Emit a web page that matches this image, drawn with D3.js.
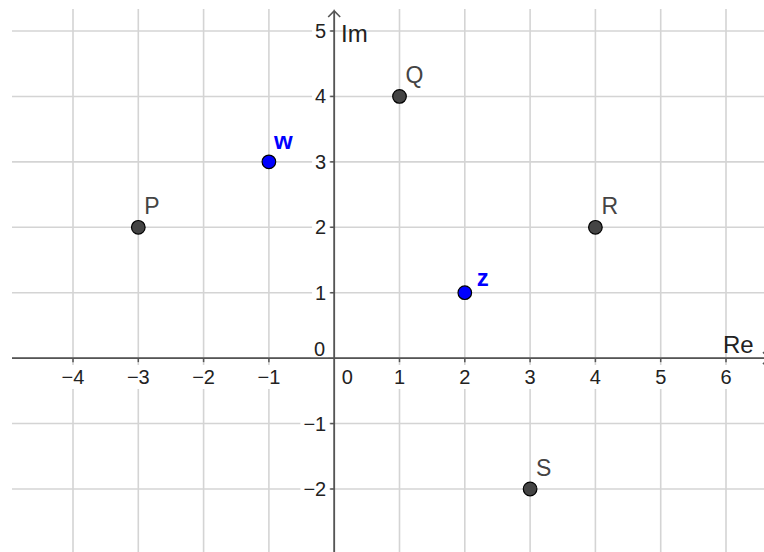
<!DOCTYPE html>
<html>
<head>
<meta charset="utf-8">
<script src="https://cdn.jsdelivr.net/npm/d3@7"></script>
<style>
  html, body { margin: 0; padding: 0; background: #fff; }
  svg { display: block; }
  text { font-family: "Liberation Sans", Arial, sans-serif; }
</style>
</head>
<body>
<svg id="chart" width="764" height="552"></svg>
<script>
// ---- data ----
const xTicks = [-4, -3, -2, -1, 0, 1, 2, 3, 4, 5, 6];
const yTicks = [-2, -1, 0, 1, 2, 3, 4, 5];
const xAxisTitle = "Re";
const yAxisTitle = "Im";
const pointNames = ["P", "Q", "R", "S", "w", "z"];
const pointRe    = [-3, 1, 4, 3, -1, 2];
const pointIm    = [2, 4, 2, -2, 3, 1];
const pointKind  = ["fixed", "fixed", "fixed", "fixed", "free", "free"];

// ---- layout ----
const W = 764, H = 552;
const plot = { left: 12, top: 9, right: 764, bottom: 552 };
const x = d3.scaleLinear().domain([-4, 6]).range([73, 726]);
const y = d3.scaleLinear().domain([-2, 5]).range([489, 31]);

const svg = d3.select("#chart");
svg.append("rect").attr("width", W).attr("height", H).attr("fill", "#fff");

const gridColor = "#d4d4d4";
const axisColor = "#555";
const g = svg.append("g");

// grid
g.selectAll("line.vg").data(xTicks).join("line")
  .attr("x1", d => x(d)).attr("x2", d => x(d))
  .attr("y1", plot.top).attr("y2", plot.bottom)
  .attr("stroke", gridColor).attr("stroke-width", 1.6);
g.selectAll("line.hg").data(yTicks).join("line")
  .attr("y1", d => y(d)).attr("y2", d => y(d))
  .attr("x1", plot.left).attr("x2", plot.right)
  .attr("stroke", gridColor).attr("stroke-width", 1.6);

const x0 = x(0), y0 = y(0);

// tick labels with white backgrounds
const labG = svg.append("g");
function addLabel(txt, tx, ty, anchor) {
  const grp = labG.append("g");
  const bg = grp.append("rect").attr("fill", "#fff");
  const t = grp.append("text").attr("x", tx).attr("y", ty)
    .attr("text-anchor", anchor).attr("font-size", 20).attr("fill", "#222")
    .text(txt);
  const b = t.node().getBBox();
  bg.attr("x", b.x - 3).attr("y", b.y - 1).attr("width", b.width + 6).attr("height", b.height + 2);
}
const fmt = d => d < 0 ? "\u2212" + Math.abs(d) : String(d);
xTicks.forEach(d => {
  if (d === 0) addLabel("0", x0 + 13, 384, "middle");
  else addLabel(fmt(d), x(d), 384, "middle");
});
yTicks.forEach(d => {
  if (d === 0) addLabel("0", x0 - 9, y0 - 2.5, "end");
  else addLabel(fmt(d), x0 - 8, y(d) + 7, "end");
});

// axes
const ax = svg.append("g").attr("stroke", axisColor).attr("fill", "none");
ax.append("line").attr("x1", plot.left).attr("x2", plot.right)
  .attr("y1", y0).attr("y2", y0).attr("stroke-width", 1.8);
ax.append("line").attr("x1", x0).attr("x2", x0)
  .attr("y1", 11).attr("y2", plot.bottom).attr("stroke-width", 1.8);
// arrows
ax.append("path").attr("d", `M${x0 - 6},${17} L${x0},${11} L${x0 + 6},${17}`).attr("stroke-width", 1.6);
ax.append("path").attr("d", `M${769 - 6},${y0 - 6} L${769},${y0} L${769 - 6},${y0 + 6}`).attr("stroke-width", 1.6);
// ticks
ax.selectAll("line.xt").data(xTicks.filter(d => d !== 0)).join("line")
  .attr("x1", d => x(d)).attr("x2", d => x(d)).attr("y1", y0).attr("y2", y0 + 4)
  .attr("stroke-width", 1.5);
ax.selectAll("line.yt").data(yTicks.filter(d => d !== 0)).join("line")
  .attr("y1", d => y(d)).attr("y2", d => y(d)).attr("x1", x0 - 4).attr("x2", x0)
  .attr("stroke-width", 1.5);

// axis titles
svg.append("text").attr("x", 341).attr("y", 42).attr("font-size", 24).attr("fill", "#222").text(yAxisTitle);
svg.append("text").attr("x", 723).attr("y", 353).attr("font-size", 24).attr("fill", "#222").text(xAxisTitle);

// points
const pts = pointNames.map((n, i) => ({ name: n, re: pointRe[i], im: pointIm[i], kind: pointKind[i] }));
const labelOffset = { z: [12, -7], w: [5, -13] };
const pg = svg.append("g");
pg.selectAll("circle").data(pts).join("circle")
  .attr("cx", d => x(d.re)).attr("cy", d => y(d.im)).attr("r", 6.8)
  .attr("fill", d => d.kind === "free" ? "#0000ff" : "#444")
  .attr("stroke", "#000").attr("stroke-width", 1.2);
pg.selectAll("text").data(pts).join("text")
  .attr("x", d => x(d.re) + (labelOffset[d.name] ? labelOffset[d.name][0] : 6))
  .attr("y", d => y(d.im) + (labelOffset[d.name] ? labelOffset[d.name][1] : -13))
  .attr("font-size", d => d.kind === "free" ? 24 : 23)
  .attr("font-weight", d => d.kind === "free" ? "bold" : "normal")
  .attr("fill", d => d.kind === "free" ? "#0000ff" : "#444")
  .text(d => d.name);
</script>
</body>
</html>
